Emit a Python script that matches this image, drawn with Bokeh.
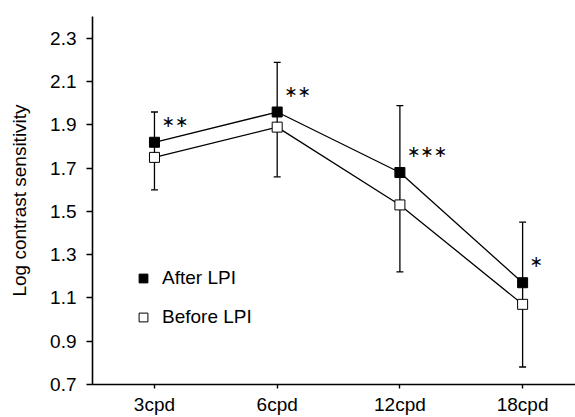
from bokeh.plotting import figure
from bokeh.models import (ColumnDataSource, FixedTicker, Range1d, Whisker, TeeHead,
                          Legend, LegendItem)
from bokeh.core.properties import value
from bokeh.embed import file_html
from bokeh.resources import INLINE

categories = ["3cpd", "6cpd", "12cpd", "18cpd"]
after_lpi = [1.82, 1.96, 1.68, 1.17]
before_lpi = [1.75, 1.89, 1.53, 1.07]
err_upper = [1.96, 2.19, 1.99, 1.45]
err_lower = [1.60, 1.66, 1.22, 0.78]
significance = ["∗∗", "∗∗", "∗∗∗", "∗"]
y_ticks = [0.7, 0.9, 1.1, 1.3, 1.5, 1.7, 1.9, 2.1, 2.3]

FONT = "Liberation Sans"
xs = list(range(len(categories)))

src = ColumnDataSource(dict(x=xs, after=after_lpi, before=before_lpi,
                            upper=err_upper, lower=err_lower, sig=significance))

p = figure(width=575, height=417, output_backend="svg", toolbar_location=None,
           x_range=Range1d(-0.505, 3.431), y_range=Range1d(0.699, 2.402),
           min_border_left=92, min_border_top=16, min_border_right=0, min_border_bottom=33)
p.outline_line_color = None
p.xgrid.grid_line_color = None
p.ygrid.grid_line_color = None
p.background_fill_color = "white"

# axes
p.xaxis.ticker = FixedTicker(ticks=xs)
p.xaxis.major_label_overrides = {i: c for i, c in zip(xs, categories)}
p.yaxis.ticker = FixedTicker(ticks=y_ticks)
p.yaxis.major_label_overrides = {t: f"{t:.1f}" for t in y_ticks}
for ax in (p.xaxis, p.yaxis):
    ax.axis_line_width = 1.6
    ax.axis_line_color = "black"
    ax.major_tick_line_color = "black"
    ax.major_tick_line_width = 1.4
    ax.minor_tick_line_color = None
    ax.major_tick_in = 0
    ax.major_label_text_font = FONT
    ax.major_label_text_color = "black"
p.xaxis.major_tick_out = 4
p.xaxis.major_label_standoff = 5
p.xaxis.major_label_text_font_size = "19px"
p.yaxis.major_tick_out = 6
p.yaxis.major_label_standoff = 10
p.yaxis.major_label_text_font_size = "19px"
p.yaxis.axis_label = "Log contrast sensitivity"
p.yaxis.axis_label_text_font = FONT
p.yaxis.axis_label_text_font_size = "19px"
p.yaxis.axis_label_text_font_style = "normal"
p.yaxis.axis_label_text_color = "black"
p.yaxis.axis_label_standoff = 17

# lines
p.line("x", "after", source=src, line_color="black", line_width=1.3)
p.line("x", "before", source=src, line_color="black", line_width=1.3)

# error bars
w = Whisker(source=src, base="x", upper="upper", lower="lower",
            line_color="black", line_width=1.3,
            upper_head=TeeHead(size=7, line_color="black", line_width=1.3),
            lower_head=TeeHead(size=7, line_color="black", line_width=1.3))
p.add_layout(w)

# markers
r_after = p.scatter("x", "after", source=src, marker="square", size=10,
                    fill_color="black", line_color="black", line_width=1)
r_before = p.scatter("x", "before", source=src, marker="square", size=10,
                     fill_color="white", line_color="black", line_width=1)

# significance stars
p.text("x", "after", text="sig", source=src, x_offset=7, y_offset=-21,
       text_font=value("DejaVu Sans"), text_font_size="16px",
       text_align="left", text_baseline="middle", text_color="black")

legend = Legend(items=[LegendItem(label="After LPI", renderers=[r_after]),
                       LegendItem(label="Before LPI", renderers=[r_before])],
                location=(40, 56), border_line_color=None, background_fill_alpha=0,
                glyph_width=22, glyph_height=22, label_height=22, spacing=17,
                label_standoff=8, padding=10, margin=0,
                label_text_font=FONT, label_text_font_size="19px",
                label_text_color="black")
p.add_layout(legend)

open("out.html", "w").write(file_html(p, INLINE))
